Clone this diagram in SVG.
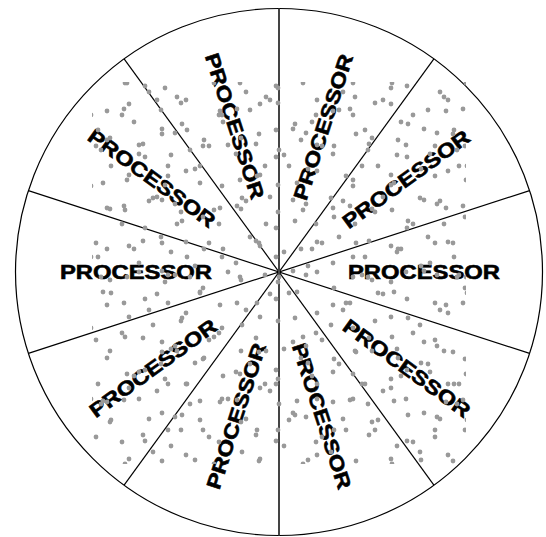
<svg xmlns="http://www.w3.org/2000/svg" width="546" height="537" viewBox="0 0 546 537">
  <style>
    .rim { fill: #ffffff; stroke: #000000; stroke-width: 1.2; }
    .spoke { stroke: #000000; stroke-width: 1.2; fill: none; }
    .axis { stroke: #444444; stroke-width: 2; fill: none; }
    .label { font-family: "Liberation Sans", Arial, sans-serif; font-weight: bold; font-size: 20px; fill: #000000; stroke: #000000; stroke-width: 0.6; text-anchor: middle; }
    .dot { fill: #999999; }
  </style>
  <defs>
    <pattern id="dotsA" patternUnits="userSpaceOnUse" x="3" y="0" width="113" height="97">
      <circle class="dot" cx="8" cy="12" r="2.4"/>
      <circle class="dot" cx="41" cy="3" r="2.4"/>
      <circle class="dot" cx="66" cy="27" r="2.4"/>
      <circle class="dot" cx="104" cy="14" r="2.4"/>
      <circle class="dot" cx="27" cy="47" r="2.4"/>
      <circle class="dot" cx="55" cy="58" r="2.4"/>
      <circle class="dot" cx="93" cy="49" r="2.4"/>
      <circle class="dot" cx="11" cy="83" r="2.4"/>
      <circle class="dot" cx="49" cy="88" r="2.4"/>
      <circle class="dot" cx="79" cy="72" r="2.4"/>
    </pattern>
    <pattern id="dotsB" patternUnits="userSpaceOnUse" x="17" y="9" width="89" height="127">
      <circle class="dot" cx="5" cy="30" r="2.4"/>
      <circle class="dot" cx="33" cy="9" r="2.4"/>
      <circle class="dot" cx="62" cy="40" r="2.4"/>
      <circle class="dot" cx="84" cy="14" r="2.4"/>
      <circle class="dot" cx="19" cy="74" r="2.4"/>
      <circle class="dot" cx="47" cy="62" r="2.4"/>
      <circle class="dot" cx="71" cy="88" r="2.4"/>
      <circle class="dot" cx="28" cy="113" r="2.4"/>
      <circle class="dot" cx="81" cy="121" r="2.4"/>
      <circle class="dot" cx="55" cy="101" r="2.4"/>
    </pattern>
    <pattern id="dotsC" patternUnits="userSpaceOnUse" x="41" y="23" width="131" height="71">
      <circle class="dot" cx="14" cy="6" r="2.4"/>
      <circle class="dot" cx="50" cy="21" r="2.4"/>
      <circle class="dot" cx="88" cy="10" r="2.4"/>
      <circle class="dot" cx="121" cy="35" r="2.4"/>
      <circle class="dot" cx="31" cy="52" r="2.4"/>
      <circle class="dot" cx="69" cy="44" r="2.4"/>
      <circle class="dot" cx="104" cy="63" r="2.4"/>
      <circle class="dot" cx="3" cy="39" r="2.4"/>
    </pattern>
    <pattern id="dotsD" patternUnits="userSpaceOnUse" x="59" y="37" width="97" height="109">
      <circle class="dot" cx="12" cy="20" r="2.4"/>
      <circle class="dot" cx="44" cy="37" r="2.4"/>
      <circle class="dot" cx="80" cy="8" r="2.4"/>
      <circle class="dot" cx="25" cy="66" r="2.4"/>
      <circle class="dot" cx="63" cy="78" r="2.4"/>
      <circle class="dot" cx="90" cy="55" r="2.4"/>
      <circle class="dot" cx="6" cy="97" r="2.4"/>
      <circle class="dot" cx="48" cy="103" r="2.4"/>
    </pattern>
  </defs>

  <g id="wheel">
    <circle class="rim" cx="279" cy="272" r="263.5"/>
  </g>

  <g id="connectors">
    <line class="spoke" x1="529.6" y1="190.6" x2="28.4" y2="353.4"/>
    <line class="spoke" x1="28.4" y1="190.6" x2="529.6" y2="353.4"/>
    <line class="spoke" x1="433.9" y1="58.8" x2="124.1" y2="485.2"/>
    <line class="spoke" x1="124.1" y1="58.8" x2="433.9" y2="485.2"/>
    <line class="axis" x1="279" y1="8.5" x2="279" y2="535.5"/>
  </g>

  <g id="processor-e">
    <text class="label" transform="translate(424,272)" x="0" y="7.2" textLength="152" lengthAdjust="spacingAndGlyphs">PROCESSOR</text>
  </g>
  <g id="processor-ene">
    <text class="label" transform="translate(406,179) rotate(-36)" x="0" y="7.2" textLength="152" lengthAdjust="spacingAndGlyphs">PROCESSOR</text>
  </g>
  <g id="processor-nne">
    <text class="label" transform="translate(323,127) rotate(-72)" x="0" y="7.2" textLength="152" lengthAdjust="spacingAndGlyphs">PROCESSOR</text>
  </g>
  <g id="processor-nnw">
    <text class="label" transform="translate(235,126) rotate(72)" x="0" y="7.2" textLength="152" lengthAdjust="spacingAndGlyphs">PROCESSOR</text>
  </g>
  <g id="processor-wnw">
    <text class="label" transform="translate(152,178) rotate(36)" x="0" y="7.2" textLength="152" lengthAdjust="spacingAndGlyphs">PROCESSOR</text>
  </g>
  <g id="processor-w">
    <text class="label" transform="translate(136,272)" x="0" y="7.2" textLength="152" lengthAdjust="spacingAndGlyphs">PROCESSOR</text>
  </g>
  <g id="processor-wsw">
    <text class="label" transform="translate(153,368) rotate(-36)" x="0" y="7.2" textLength="152" lengthAdjust="spacingAndGlyphs">PROCESSOR</text>
  </g>
  <g id="processor-ssw">
    <text class="label" transform="translate(236,416) rotate(-72)" x="0" y="7.2" textLength="152" lengthAdjust="spacingAndGlyphs">PROCESSOR</text>
  </g>
  <g id="processor-sse">
    <text class="label" transform="translate(322,416) rotate(72)" x="0" y="7.2" textLength="152" lengthAdjust="spacingAndGlyphs">PROCESSOR</text>
  </g>
  <g id="processor-ese">
    <text class="label" transform="translate(407,368) rotate(36)" x="0" y="7.2" textLength="152" lengthAdjust="spacingAndGlyphs">PROCESSOR</text>
  </g>

  <g id="scatter">
    <rect x="92" y="82" width="374" height="382" fill="url(#dotsA)"/>
    <rect x="92" y="82" width="374" height="382" fill="url(#dotsB)"/>
    <rect x="92" y="82" width="374" height="382" fill="url(#dotsC)"/>
    <rect x="92" y="82" width="374" height="382" fill="url(#dotsD)"/>
  </g>
</svg>
